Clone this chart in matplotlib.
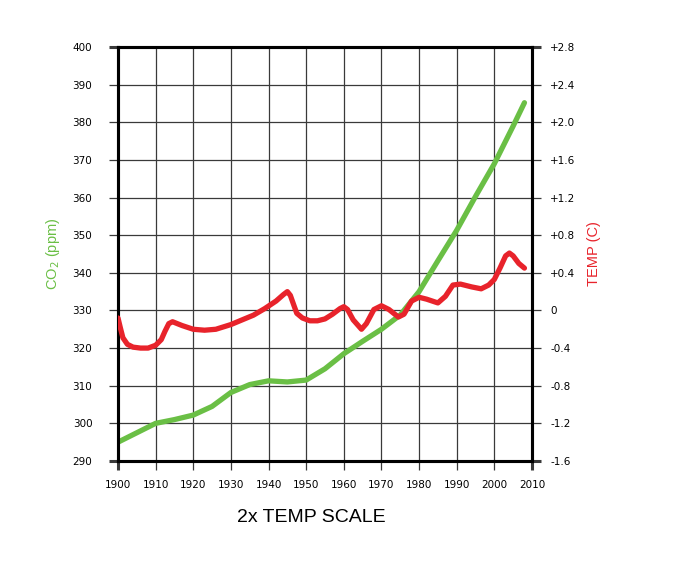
import matplotlib.pyplot as plt

# CO2 concentration (ppm)
co2_years = [1900, 1905, 1910, 1915, 1920, 1925, 1930, 1935, 1940, 1945,
             1950, 1955, 1960, 1965, 1970, 1975, 1980, 1985, 1990, 1995,
             2000, 2005, 2008]
co2_ppm = [295.0, 297.5, 300.0, 301.0, 302.2, 304.5, 308.2, 310.3, 311.3, 311.0,
           311.5, 314.5, 318.5, 321.8, 325.0, 328.8, 335.0, 343.2, 351.3, 360.3,
           369.0, 379.0, 385.2]

# temperature anomaly (C)
temp_years = [1900, 1900.6, 1901.3, 1902.5, 1904, 1906, 1908, 1910, 1911.5, 1912.5,
              1913.5, 1914.5, 1917, 1920, 1923, 1926, 1930, 1933, 1936, 1939,
              1942, 1944, 1945, 1945.8, 1946.6, 1947.5, 1949, 1951, 1953, 1955,
              1957, 1959, 1960, 1961, 1962.5, 1964.7, 1966, 1968, 1970, 1972,
              1974.5, 1976, 1978, 1980, 1982, 1985, 1987, 1989, 1991, 1994,
              1996.5, 1998.5, 2000, 2001.5, 2003, 2004, 2005, 2006.5, 2008]
temp_c = [-0.08, -0.18, -0.29, -0.36, -0.39, -0.40, -0.40, -0.37, -0.31, -0.22,
          -0.14, -0.12, -0.16, -0.20, -0.21, -0.20, -0.15, -0.10, -0.05, 0.02,
          0.10, 0.17, 0.20, 0.16, 0.07, -0.03, -0.08, -0.11, -0.11, -0.09,
          -0.04, 0.02, 0.04, 0.01, -0.10, -0.20, -0.14, 0.01, 0.05, 0.01,
          -0.07, -0.04, 0.10, 0.14, 0.12, 0.08, 0.15, 0.27, 0.28, 0.25,
          0.23, 0.27, 0.33, 0.45, 0.58, 0.61, 0.58, 0.50, 0.45]

x_ticks = list(range(1900, 2011, 10))
co2_ticks = list(range(290, 401, 10))
temp_ticks = [-1.6, -1.2, -0.8, -0.4, 0.0, 0.4, 0.8, 1.2, 1.6, 2.0, 2.4, 2.8]
temp_tick_labels = ["-1.6", "-1.2", "-0.8", "-0.4", "0", "+0.4", "+0.8",
                    "+1.2", "+1.6", "+2.0", "+2.4", "+2.8"]

GREEN = "#6abf45"
RED = "#e8232b"

fig = plt.figure(figsize=(6.75, 5.63), dpi=100)
ax = fig.add_axes([0.1748, 0.1812, 0.6133, 0.7353])
ax2 = ax.twinx()

ax.set_xlim(1900, 2010)
ax.set_ylim(290, 400)
ax2.set_ylim(-1.6, 2.8)

ax.set_xticks(x_ticks)
ax.set_yticks(co2_ticks)
ax2.set_yticks(temp_ticks)
ax2.set_yticklabels(temp_tick_labels)

ax.grid(True, color="#3a3a3a", linewidth=0.9)
ax.set_axisbelow(True)

ax.plot(co2_years, co2_ppm, color=GREEN, linewidth=3.8, solid_capstyle="round",
        solid_joinstyle="round", zorder=3)
ax2.plot(temp_years, temp_c, color=RED, linewidth=3.8, solid_capstyle="round",
         solid_joinstyle="round", zorder=3)

for a in (ax, ax2):
    for s in a.spines.values():
        s.set_linewidth(2.2)
        s.set_color("black")

ax.tick_params(axis="y", direction="out", length=6.5, width=0.9, pad=12,
               labelsize=7.5, color="#3a3a3a")
ax.tick_params(axis="x", direction="out", length=6.5, width=0.9, pad=7,
               labelsize=7.5, color="#3a3a3a")
ax2.tick_params(axis="y", direction="out", length=6.5, width=0.9, pad=6.5,
                labelsize=7.5, color="#3a3a3a")

# edge ticks drawn heavy, continuing the frame
fig.canvas.draw()
for t in (ax.xaxis.get_major_ticks()[0], ax.xaxis.get_major_ticks()[-1],
          ax.yaxis.get_major_ticks()[0], ax.yaxis.get_major_ticks()[-1],
          ax2.yaxis.get_major_ticks()[0], ax2.yaxis.get_major_ticks()[-1]):
    for ln in (t.tick1line, t.tick2line):
        ln.set_markeredgewidth(2.2)
        ln.set_color("black")

ax.set_ylabel("CO$_2$ (ppm)", color=GREEN, fontsize=10.5,
              family="Liberation Sans", labelpad=7.5)
ax2.set_ylabel("TEMP (C)", color=RED, fontsize=10.5,
               family="Liberation Sans", labelpad=8.5)

fig.text(0.461, 0.081, "2x TEMP SCALE", ha="center", va="center",
         fontsize=14, family="Liberation Sans")

fig.savefig("out.png", dpi=100)
